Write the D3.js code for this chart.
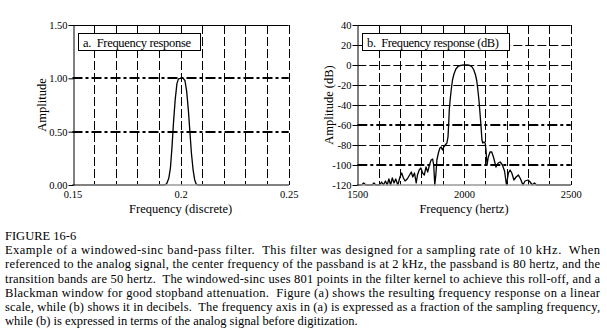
<!DOCTYPE html>
<html><head><meta charset="utf-8">
<script src="https://cdn.jsdelivr.net/npm/d3@7/dist/d3.min.js"></script>
<style>
body{margin:0;background:#fff}
svg text{font-family:"Liberation Serif","Times New Roman",serif;fill:#000}
</style>
</head><body>
<svg id="c" width="607" height="332"></svg>
<script>
// ---- Panel a: linear frequency response ----
const aFreq = [0.150,0.1925,0.1935,0.1945,0.1953,0.1960,0.1967,0.1975,0.1983,0.1990,0.2000,0.2012,0.2020,0.2028,0.2036,0.2043,0.2050,0.2058,0.2065,0.2072,0.2080,0.250];
const aAmp  = [0,0,0.01,0.06,0.16,0.35,0.58,0.80,0.95,0.995,1.0,1.0,0.98,0.88,0.70,0.50,0.30,0.14,0.05,0.01,0,0];
const aXTicks = [0.15,0.2,0.25];
const aXTickLabels = ["0.15","0.2","0.25"];
const aYTicks = [0,0.5,1.0,1.5];
const aYTickLabels = ["0.00","0.50","1.00","1.50"];
const aXGrid = [0.16,0.17,0.18,0.19,0.20,0.21,0.22,0.23,0.24,0.25];
const aYGridThick = [0.5,1.0];
const aYGridThin = [];

// ---- Panel b: frequency response in dB ----
const bFreq = [1500,1520,1530,1540,1570,1578,1586,1605,1614,1622,1632,1640,1648,1656,1664,1672,1680,1690,1700,1708,1716,1724,1734,1745,1753,1760,1768,1776,1782,1790,1798,1806,1814,1822,1830,1838,1846,1853,1858,1863,1868,1873,1880,1887,1893,1899,1905,1912,1920,1925,1928,1931,1935,1940,1946,1953,1962,1972,1985,2000,2015,2028,2038,2046,2054,2060,2065,2070,2075,2080,2084,2088,2094,2099,2103,2108,2114,2122,2130,2138,2150,2160,2170,2180,2190,2199,2208,2216,2224,2234,2244,2255,2265,2276,2286,2300,2310,2320,2330,2340,2350,2500];
const bDb   = [-120,-120,-118,-120,-120,-118,-120,-120,-117,-120,-116,-120,-114,-120,-113,-118,-114,-120,-112,-108,-113,-116,-114,-110,-107,-112,-108,-118,-110,-105,-103,-108,-110,-102,-107,-100,-95,-94,-100,-120,-110,-95,-88,-83,-82,-85,-82,-80,-78,-72,-60,-45,-35,-25,-15,-9,-4,-1.5,-0.3,0,0,-0.5,-2,-5,-10,-16,-25,-35,-48,-62,-75,-78,-77,-78,-85,-100,-92,-87,-87,-92,-102,-98,-97,-100,-106,-120,-108,-105,-108,-115,-112,-110,-114,-120,-116,-115,-117,-120,-118,-120,-120,-120];
const bXTicks = [1500,2000,2500];
const bXTickLabels = ["1500","2000","2500"];
const bYTicks = [-120,-100,-80,-60,-40,-20,0,20,40];
const bYTickLabels = ["-120","-100","-80","-60","-40","-20","0","20","40"];
const bXGrid = [1600,1700,1800,1900,2000,2100,2200,2300,2400,2500];
const bYGridThick = [-100,-60];
const bYGridThin = [-80,-40,-20,0,20];

const captionTitle = "FIGURE 16-6";
const captionLines = [
  "Example of a windowed-sinc band-pass filter.  This filter was designed for a sampling rate of 10 kHz.  When",
  "referenced to the analog signal, the center frequency of the passband is at 2 kHz, the passband is 80 hertz, and the",
  "transition bands are 50 hertz.  The windowed-sinc uses 801 points in the filter kernel to achieve this roll-off, and a",
  "Blackman window for good stopband attenuation.  Figure (a) shows the resulting frequency response on a linear",
  "scale, while (b) shows it in decibels.  The frequency axis in (a) is expressed as a fraction of the sampling frequency,",
  "while (b) is expressed in terms of the analog signal before digitization."
];

const svg = d3.select("#c");
svg.append("rect").attr("width",607).attr("height",332).attr("fill","#fff");

function panel(o){
  const x = d3.scaleLinear().domain(o.xDom).range(o.xRange);
  const y = d3.scaleLinear().domain(o.yDom).range([185,25]);
  const g = svg.append("g");
  const x0 = o.xRange[0], x1 = o.xRange[1];
  g.selectAll(".vg").data(o.xGrid).join("line")
    .attr("x1",d=>Math.round(x(d))+0.5).attr("x2",d=>Math.round(x(d))+0.5)
    .attr("y1",25).attr("y2",185).attr("stroke","#000").attr("stroke-width",1)
    .attr("stroke-dasharray","9,3");
  g.selectAll(".hg").data(o.yGridThin).join("line")
    .attr("x1",x0).attr("x2",x1)
    .attr("y1",d=>Math.round(y(d))+0.5).attr("y2",d=>Math.round(y(d))+0.5)
    .attr("stroke","#000").attr("stroke-width",1).attr("stroke-dasharray","9,3");
  g.selectAll(".hgt").data(o.yGridThick).join("line")
    .attr("x1",x0).attr("x2",x1)
    .attr("y1",d=>Math.round(y(d))).attr("y2",d=>Math.round(y(d)))
    .attr("stroke","#000").attr("stroke-width",2).attr("stroke-dasharray","10,3,3,3");
  g.append("line").attr("x1",x0).attr("x2",x1).attr("y1",25.5).attr("y2",25.5).attr("stroke","#000");
  g.append("rect").attr("x",o.box[0]+0.5).attr("y",33.5).attr("width",o.box[1]).attr("height",17)
    .attr("fill","#fff").attr("stroke","#000");
  g.append("text").attr("x",o.box[0]+5).attr("y",46.5).attr("font-size",12.5)
    .attr("textLength",o.boxTextLen).attr("lengthAdjust","spacing")
    .attr("xml:space","preserve").text(o.boxText);
  const line = d3.line().x(d=>x(d[0])).y(d=>y(d[1]));
  g.append("path").datum(d3.zip(o.fx,o.fy)).attr("d",line)
    .attr("fill","none").attr("stroke","#000").attr("stroke-width",1.3).attr("stroke-linejoin","round");
  g.append("line").attr("x1",x0).attr("x2",x1).attr("y1",185).attr("y2",185)
    .attr("stroke","#9a9a9a").attr("stroke-width",1.5);
  const ya = d3.axisLeft(y).tickValues(o.yTicks).tickSize(5).tickSizeOuter(0).tickPadding(1)
    .tickFormat((d,i)=>o.yLabels[i]);
  const yg = g.append("g").attr("transform",`translate(${Math.round(x0)+0.5},0)`).call(ya);
  yg.selectAll("text").attr("font-size",10.5).attr("font-family","Liberation Serif");
  yg.selectAll("path,line").attr("stroke","#000");
  const xa = d3.axisBottom(x).tickValues(o.xTicks).tickSize(0).tickPadding(6)
    .tickFormat((d,i)=>o.xLabels[i]);
  const xg = g.append("g").attr("transform","translate(0,185)").call(xa);
  xg.select(".domain").remove();
  xg.selectAll("text").attr("font-size",10.5).attr("font-family","Liberation Serif");
  g.append("text").attr("x",(x0+x1)/2).attr("y",213).attr("text-anchor","middle")
    .attr("font-size",12.5).text(o.xTitle);
  g.append("text").attr("transform",`translate(${o.yTitleX},105) rotate(-90)`)
    .attr("text-anchor","middle").attr("font-size",12.5).text(o.yTitle);
}

panel({xDom:[0.15,0.25], xRange:[72.5,288.7], yDom:[0,1.5],
  fx:aFreq, fy:aAmp, xTicks:aXTicks, xLabels:aXTickLabels, yTicks:aYTicks, yLabels:aYTickLabels,
  xGrid:aXGrid, yGridThin:aYGridThin, yGridThick:aYGridThick,
  box:[78,122], boxText:"a.  Frequency response", boxTextLen:108,
  xTitle:"Frequency (discrete)", yTitle:"Amplitude", yTitleX:46});

panel({xDom:[1500,2500], xRange:[357.3,570.7], yDom:[-120,40],
  fx:bFreq, fy:bDb, xTicks:bXTicks, xLabels:bXTickLabels, yTicks:bYTicks, yLabels:bYTickLabels,
  xGrid:bXGrid, yGridThin:bYGridThin, yGridThick:bYGridThick,
  box:[362,147], boxText:"b.  Frequency response (dB)", boxTextLen:132,
  xTitle:"Frequency (hertz)", yTitle:"Amplitude (dB)", yTitleX:333});

const cap = svg.append("g");
cap.append("text").attr("x",5).attr("y",240).attr("font-size",12.5).text(captionTitle);
cap.selectAll(".cl").data(captionLines).join("text")
  .attr("x",5).attr("y",(d,i)=>254.2+i*14.2).attr("font-size",12.5)
  .attr("xml:space","preserve")
  .each(function(d,i){ if(i<captionLines.length-1){ d3.select(this).attr("textLength",595).attr("lengthAdjust","spacing"); } })
  .text(d=>d);
</script>
</body></html>
